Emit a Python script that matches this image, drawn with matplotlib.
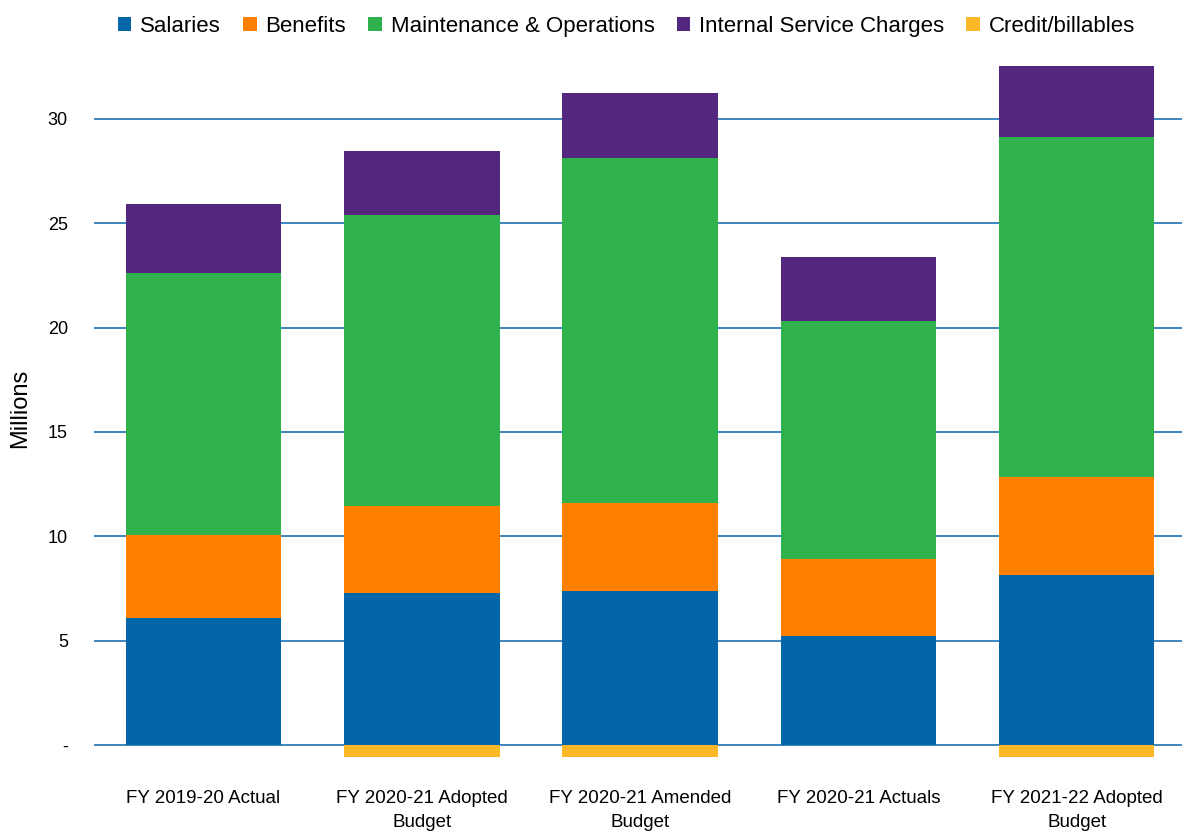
import matplotlib.pyplot as plt
import numpy as np

plt.rcParams['font.family'] = ['Liberation Sans', 'DejaVu Sans']

# values in millions
categories = ['FY 2019-20 Actual', 'FY 2020-21 Adopted\nBudget', 'FY 2020-21 Amended\nBudget',
              'FY 2020-21 Actuals', 'FY 2021-22 Adopted\nBudget']
salaries = [6.09, 7.28, 7.38, 5.22, 8.15]
benefits = [3.97, 4.17, 4.22, 3.69, 4.69]
maint_ops = [12.54, 13.95, 16.53, 11.41, 16.29]
internal_svc = [3.30, 3.06, 3.11, 3.06, 3.40]
credit = [0.0, -0.55, -0.55, 0.0, -0.55]

series = [
    ('Salaries', salaries, '#0366A8'),
    ('Benefits', benefits, '#FF8000'),
    ('Maintenance & Operations', maint_ops, '#2FB24C'),
    ('Internal Service Charges', internal_svc, '#54277F'),
]

fig = plt.figure(figsize=(11.82, 8.36), dpi=100)
ax = fig.add_axes([0.0798, 0.091, 0.9235, 0.842])

x = np.arange(len(categories))
w = 0.712
bottom = np.zeros(len(categories))
for name, vals, col in series:
    ax.bar(x, vals, w, bottom=bottom, color=col, label=name, zorder=3)
    bottom += np.array(vals)
ax.bar(x, credit, w, color='#FDB827', label='Credit/billables', zorder=3)

ax.set_xlim(-0.5, 4.5)
ax.set_ylim(-0.7, 33)
ax.set_yticks([0, 5, 10, 15, 20, 25, 30])
ax.set_yticklabels(['-', '5', '10', '15', '20', '25', '30'])
ax.set_xticks(x)
ax.set_xticklabels(categories, fontsize=13.5, linespacing=1.5)
ax.tick_params(axis='y', length=0, pad=19, labelsize=13)
ax.tick_params(axis='x', length=0, pad=22)
ax.grid(axis='y', color='#3C85BE', linewidth=1.4, zorder=1)
for s in ax.spines.values():
    s.set_visible(False)
ax.set_ylabel('Millions', fontsize=17, labelpad=12)

fig.legend(loc='upper center', bbox_to_anchor=(0.53, 1.005), ncol=5, frameon=False,
           fontsize=16, handlelength=0.6, handleheight=0.6, handletextpad=0.4,
           columnspacing=1.0)

fig.savefig('out.png', dpi=100)
